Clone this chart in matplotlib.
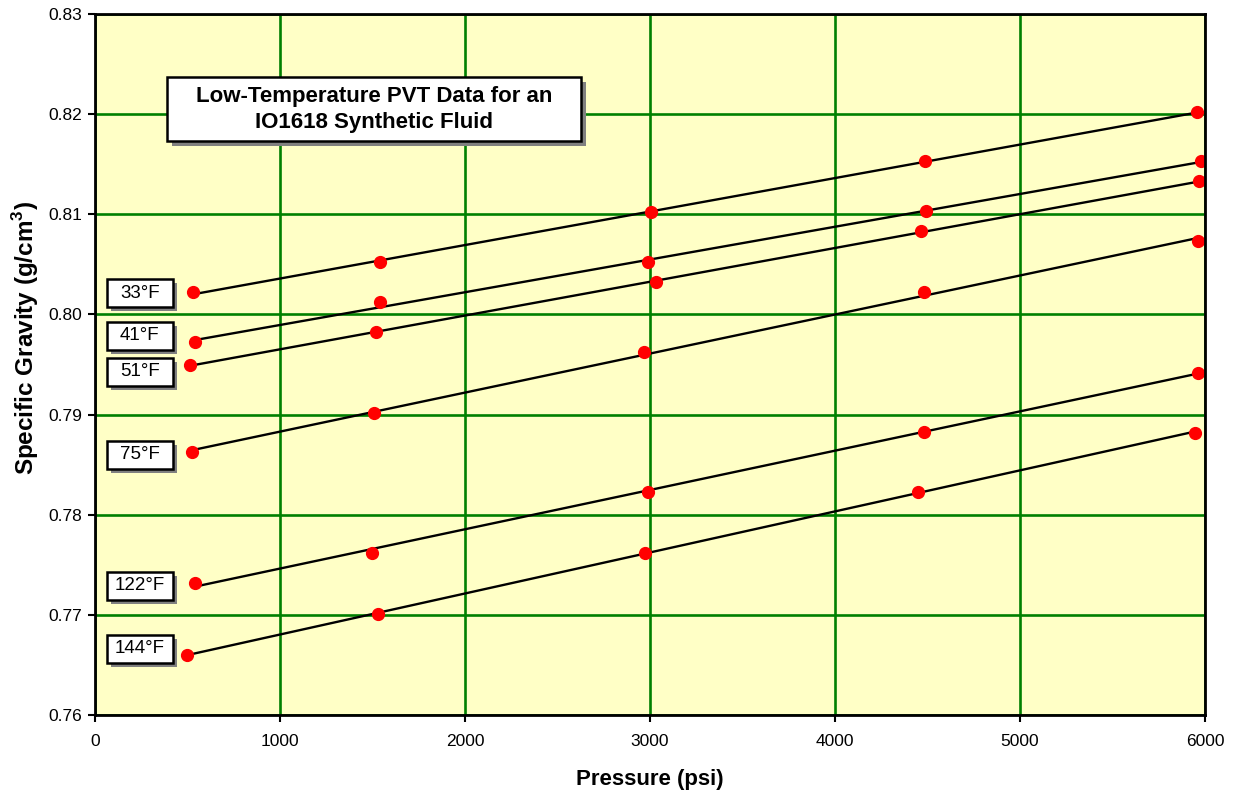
import numpy as np
import matplotlib.pyplot as plt
from matplotlib.patches import Rectangle

plt.rcParams['font.family'] = ['Liberation Sans', 'DejaVu Sans']

# measured PVT points: pressure (psi) vs specific gravity, one row per temperature
temps = ['33°F', '41°F', '51°F', '75°F', '122°F', '144°F']
pressure = [
    [530, 1540, 3005, 4486, 5957],
    [540, 1540, 2990, 4490, 5980],
    [515, 1520, 3030, 4465, 5970],
    [525, 1510, 2970, 4480, 5960],
    [540, 1500, 2990, 4480, 5960],
    [500, 1530, 2975, 4450, 5945],
]
sg = [
    [0.8022, 0.8052, 0.8102, 0.8153, 0.8202],
    [0.7972, 0.8012, 0.8052, 0.8103, 0.8153],
    [0.7950, 0.7982, 0.8032, 0.8083, 0.8133],
    [0.7863, 0.7902, 0.7962, 0.8022, 0.8073],
    [0.7732, 0.7762, 0.7823, 0.7883, 0.7942],
    [0.7660, 0.7701, 0.7762, 0.7823, 0.7882],
]
label_y = [0.8021, 0.79785, 0.7943, 0.7860, 0.7729, 0.7666]

fig = plt.figure(figsize=(12.35, 7.97), dpi=100)
ax = fig.add_axes([0.0769, 0.1029, 0.8988, 0.8795])
ax.set_facecolor('#FFFFC6')
ax.set_xlim(0, 6000)
ax.set_ylim(0.76, 0.83)

# data units per pixel, used to size the boxes and their shadows
px_x = 6000 / 1110
px_y = 0.07 / 701


def shadow_box(cx, cy, w, h, off=4):
    ax.add_patch(Rectangle((cx - w / 2 + off * px_x, cy - h / 2 - off * px_y), w, h,
                           fc='#808080', ec='none', zorder=5))
    ax.add_patch(Rectangle((cx - w / 2, cy - h / 2), w, h,
                           fc='white', ec='black', lw=1.8, zorder=6))


for name, p, v, ly in zip(temps, pressure, sg, label_y):
    p = np.array(p)
    v = np.array(v)
    # linear trend line over the measured range
    k, b = np.polyfit(p, v, 1)
    xs = np.array([p.min(), p.max()])
    ax.plot(xs, k * xs + b, color='black', lw=1.7, zorder=3)
    ax.plot(p, v, 'o', color='#FF0000', ms=8.5, mec='#FF0000', zorder=4)

    shadow_box(243, ly, 66 * px_x, 28 * px_y)
    ax.text(243, ly, name, ha='center', va='center', fontsize=13.5, zorder=7)

ax.set_xticks(np.arange(0, 6001, 1000))
yt = np.arange(0.76, 0.8301, 0.01)
ax.set_yticks(yt)
ax.set_yticklabels([f'{t:.2f}' for t in yt])
ax.grid(True, color='#008000', lw=1.9, zorder=1)
ax.set_axisbelow(True)
ax.tick_params(labelsize=12.5, direction='out', length=5, width=1.5)
ax.tick_params(axis='x', pad=9)
ax.tick_params(axis='y', pad=4)
for s in ax.spines.values():
    s.set_linewidth(2)
    s.set_zorder(8)

ax.set_xlabel('Pressure (psi)', fontsize=16, fontweight='bold', labelpad=14)
ax.set_ylabel('Specific Gravity (g/cm$^\\mathregular{3}$)', fontsize=17.5,
              fontweight='bold')
ax.yaxis.set_label_coords(-0.049, 0.538)

title = 'Low-Temperature PVT Data for an\nIO1618 Synthetic Fluid'
shadow_box(1508, 0.8205, 414 * px_x, 64 * px_y, off=5)
ax.text(1508, 0.8205, title, ha='center', va='center', fontsize=16,
        fontweight='bold', linespacing=1.3, zorder=7)

fig.savefig('out.png', dpi=100)
